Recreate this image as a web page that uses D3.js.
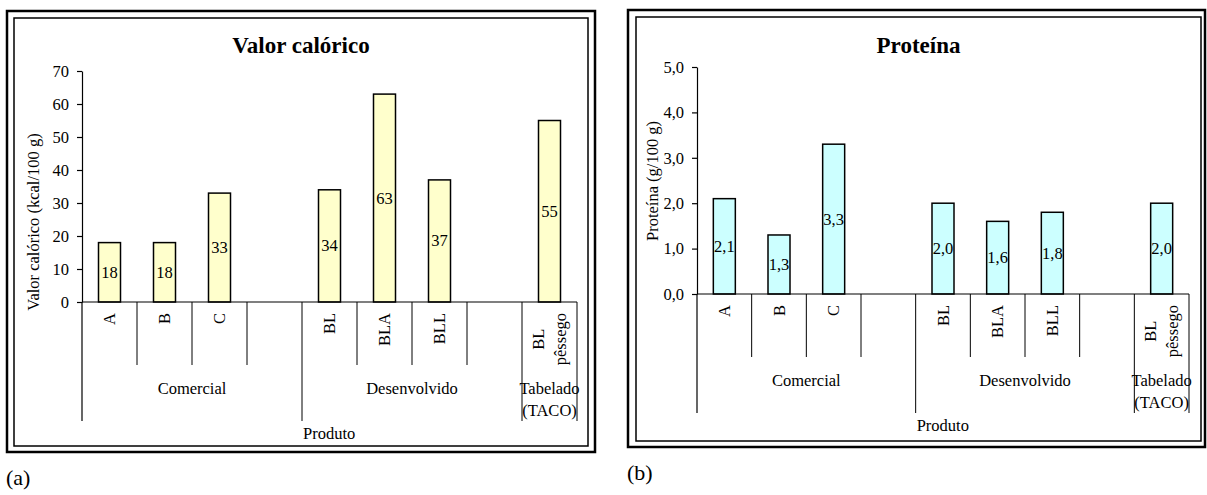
<!DOCTYPE html>
<html>
<head>
<meta charset="utf-8">
<script src="https://cdn.jsdelivr.net/npm/d3@7"></script>
<style>
  body { margin: 0; background: #fff; }
  svg text { font-family: "Liberation Serif", "Times New Roman", serif; fill: #000; }
</style>
</head>
<body>
<div id="chart"></div>
<script>
// product slots (blank slots separate the groups)
var produtos = ["A", "B", "C", "", "BL", "BLA", "BLL", "", "BL\npêssego"];
var grupos = ["Comercial", "Desenvolvido", "Tabelado\n(TACO)"];
// first slot of each group, last entry closes the axis
var inicioGrupo = [0, 4, 8, 9];

var valorCalorico = [18, 18, 33, null, 34, 63, 37, null, 55];
var proteina = [2.1, 1.3, 3.3, null, 2.0, 1.6, 1.8, null, 2.0];

var ticksCalorico = [0, 10, 20, 30, 40, 50, 60, 70];
var ticksProteina = [0, 1, 2, 3, 4, 5];

// portuguese number format (comma as decimal mark)
var pt = d3.formatLocale({decimal: ",", thousands: ".", grouping: [3], currency: ["R$", ""]});

var fonte = "16.5px";

var svg = d3.select("#chart").append("svg")
    .attr("width", 1207)
    .attr("height", 495);

function drawChart(opt) {
  var g = svg.append("g");

  // double frame
  g.append("rect")
    .attr("x", opt.outer[0]).attr("y", opt.outer[1])
    .attr("width", opt.outer[2]).attr("height", opt.outer[3])
    .attr("fill", "none").attr("stroke", "#000").attr("stroke-width", 2.5);
  g.append("rect")
    .attr("x", opt.inner[0]).attr("y", opt.inner[1])
    .attr("width", opt.inner[2]).attr("height", opt.inner[3])
    .attr("fill", "none").attr("stroke", "#000").attr("stroke-width", 1.5);

  var x = d3.scaleLinear().domain([0, produtos.length]).range([opt.x0, opt.x1]);
  var y = d3.scaleLinear().domain([0, d3.max(opt.ticks)]).range([opt.y0, opt.yTop]);
  var slot = x(1) - x(0);
  var barW = 22;

  // title
  g.append("text")
    .attr("x", opt.inner[0] + opt.inner[2] / 2)
    .attr("y", 53)
    .attr("text-anchor", "middle")
    .style("font-size", "23px")
    .style("font-weight", "bold")
    .text(opt.title);

  // y axis
  var yAxis = d3.axisLeft(y)
    .tickValues(opt.ticks)
    .tickSize(5)
    .tickSizeOuter(0)
    .tickPadding(8)
    .tickFormat(opt.fmt);
  var ya = g.append("g")
    .attr("transform", "translate(" + opt.x0 + ",0)")
    .call(yAxis);
  ya.selectAll("path, line").attr("stroke", "#000").attr("stroke-width", 1.2);
  ya.selectAll("text")
    .style("font-size", fonte)
    .style("font-family", "Liberation Serif, serif")
    .attr("fill", "#000");

  // y axis title
  g.append("text")
    .attr("transform", "translate(" + opt.yTitle[0] + "," + opt.yTitle[1] + ") rotate(-90)")
    .attr("text-anchor", "middle")
    .attr("dominant-baseline", "central")
    .style("font-size", fonte)
    .text(opt.yLabel);

  // bars
  var dados = produtos.map(function(p, i) { return {i: i, v: opt.values[i]}; })
    .filter(function(d) { return d.v != null; });

  g.selectAll(".bar")
      .data(dados)
    .enter().append("rect")
      .attr("class", "bar")
      .attr("x", function(d) { return x(d.i) + slot / 2 - barW / 2; })
      .attr("y", function(d) { return y(d.v); })
      .attr("width", barW)
      .attr("height", function(d) { return y(0) - y(d.v); })
      .attr("fill", opt.color)
      .attr("stroke", "#000")
      .attr("stroke-width", 1.5);

  g.selectAll(".valor")
      .data(dados)
    .enter().append("text")
      .attr("class", "valor")
      .attr("x", function(d) { return x(d.i) + slot / 2; })
      .attr("y", function(d) { return (y(0) + y(d.v)) / 2; })
      .attr("text-anchor", "middle")
      .attr("dominant-baseline", "central")
      .style("font-size", fonte)
      .text(function(d) { return opt.valFmt(d.v); });

  // category axis line
  g.append("line")
    .attr("x1", opt.x0).attr("x2", opt.x1)
    .attr("y1", y(0)).attr("y2", y(0))
    .attr("stroke", "#000").attr("stroke-width", 1.2);

  // slot separators: long ones at group boundaries
  d3.range(produtos.length + 1).forEach(function(i) {
    var longo = inicioGrupo.indexOf(i) >= 0;
    g.append("line")
      .attr("x1", x(i)).attr("x2", x(i))
      .attr("y1", y(0)).attr("y2", y(0) + (longo ? 119 : 63))
      .attr("stroke", "#000").attr("stroke-width", i == 0 ? 1.2 : 1);
  });

  // rotated product labels
  produtos.forEach(function(p, i) {
    if (!p) return;
    var linhas = p.split("\n");
    var cx = x(i) + slot / 2;
    var topo = y(0) + 11;
    if (linhas.length == 1) {
      g.append("text")
        .attr("transform", "translate(" + cx + "," + topo + ") rotate(-90)")
        .attr("text-anchor", "end")
        .attr("dominant-baseline", "central")
        .style("font-size", fonte)
        .text(p);
    } else {
      var els = linhas.map(function(l, k) {
        var dx = (k - (linhas.length - 1) / 2) * 22;
        return g.append("text")
          .attr("text-anchor", "middle")
          .attr("dominant-baseline", "central")
          .attr("data-dx", dx)
          .style("font-size", fonte)
          .text(l);
      });
      var maior = d3.max(els, function(e) { return e.node().getComputedTextLength(); });
      els.forEach(function(e) {
        e.attr("transform", "translate(" + (cx + (+e.attr("data-dx"))) + "," + (topo + maior / 2) + ") rotate(-90)");
      });
    }
  });

  // group labels
  grupos.forEach(function(nome, k) {
    var cx = (x(inicioGrupo[k]) + x(inicioGrupo[k + 1])) / 2;
    nome.split("\n").forEach(function(l, j) {
      g.append("text")
        .attr("x", cx)
        .attr("y", y(0) + 86 + j * 22)
        .attr("text-anchor", "middle")
        .attr("dominant-baseline", "central")
        .style("font-size", fonte)
        .text(l);
    });
  });

  // x axis title
  g.append("text")
    .attr("x", x(4) + 1)
    .attr("y", y(0) + 131)
    .attr("dominant-baseline", "central")
    .style("font-size", fonte)
    .text("Produto");

  // panel letter
  g.append("text")
    .attr("x", opt.letter[0])
    .attr("y", opt.letter[1])
    .attr("dominant-baseline", "central")
    .style("font-size", "22px")
    .text(opt.letterText);
}

drawChart({
  outer: [7, 11, 588, 441],
  inner: [14, 18, 574, 428],
  x0: 82, x1: 577, y0: 302, yTop: 71,
  ticks: ticksCalorico,
  values: valorCalorico,
  fmt: pt.format("d"),
  valFmt: pt.format("d"),
  color: "#FFFFCC",
  title: "Valor calórico",
  yLabel: "Valor calórico (kcal/100 g)",
  yTitle: [33, 222],
  letter: [6, 477],
  letterText: "(a)"
});

drawChart({
  outer: [628, 10, 577, 437],
  inner: [636, 17, 565, 424],
  x0: 697, x1: 1189, y0: 294, yTop: 67,
  ticks: ticksProteina,
  values: proteina,
  fmt: pt.format(".1f"),
  valFmt: pt.format(".1f"),
  color: "#CCFFFF",
  title: "Proteína",
  yLabel: "Proteína (g/100 g)",
  yTitle: [652, 181],
  letter: [627, 472],
  letterText: "(b)"
});
</script>
</body>
</html>
